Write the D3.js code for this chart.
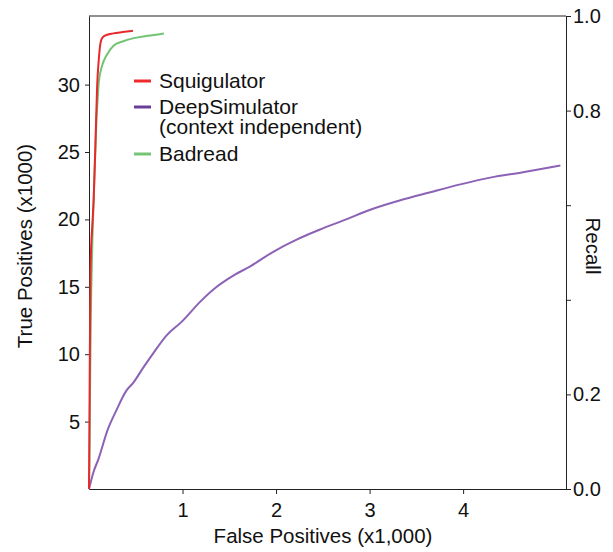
<!DOCTYPE html>
<html lang="en">
  <head>
    <meta charset="utf-8">
    <title>ROC</title>
    <script type="text/javascript" src="https://cdn.jsdelivr.net/npm/d3@7"></script>
    <style>
    body{margin:0;background:#fff;}
    svg{font-family:"Liberation Sans",Arial,sans-serif;}
    .axis line,
    .axis path{
      stroke:#222;
      stroke-width:1px;
    }
    .axis text{
      font-family:"Liberation Sans",Arial,sans-serif;
      font-size:20px;
      fill:#111;
    }
    .title{font-size:20.5px;fill:#111;}
    .legend text{font-size:21px;fill:#111;}
    </style>
  </head>
  <body>
    <svg></svg>
    <script type="text/javascript">
      // false positives (x1000) / true positives (x1000)
      var squigX=[0,0.004,0.008,0.012,0.016,0.02,0.035,0.05,0.07,0.087,0.105,0.13,0.16,0.26,0.36,0.47];
      var squigY=[0,4,9,13,16,17.3,19.5,21.5,25.9,29.9,31.9,33.3,33.6,33.8,33.9,34.0];

      var badX=[0,0.005,0.012,0.02,0.033,0.06,0.08,0.09,0.105,0.14,0.19,0.265,0.36,0.48,0.61,0.72,0.8];
      var badY=[0,2,8,13,17.5,23.5,27.4,28.6,30.2,31.4,32.2,32.9,33.2,33.45,33.6,33.7,33.8];

      var deepX=[0,0.05,0.1,0.2,0.29,0.4,0.47,0.58,0.69,0.83,0.99,1.19,1.33,1.56,1.72,1.97,2.22,2.47,2.75,3.0,3.32,3.64,3.97,4.29,4.64,5.04];
      var deepY=[0,1.3,2.2,4.4,5.8,7.3,7.85,9.0,10.1,11.4,12.4,13.9,14.8,15.9,16.5,17.6,18.5,19.25,20.0,20.7,21.4,22.0,22.6,23.1,23.5,24.0];

      var seriesNames=["Squigulator","DeepSimulator","Badread"];
      var legendLabels=[["Squigulator"],["DeepSimulator","(context independent)"],["Badread"]];
      var lineColors=["#e8282b","#8c62b6","#72c474"];
      var legendColors=["#ee2a2a","#6a3d9a","#74c476"];

      var xTicks=[1,2,3,4];
      var yTicks=[5,10,15,20,25,30];
      var recallTicks=[0,0.2,0.4,0.6,0.8,1.0];
      var recallLabelled=[0,0.2,0.8,1.0];

      var width=613, height=552;
      var pLeft=89, pRight=566, pTop=16, pBottom=489;

      var svg=d3.select("svg")
                .attr("width",width)
                .attr("height",height);

      var xscale=d3.scaleLinear().domain([0,5.1]).range([pLeft,pRight]);
      var yscale=d3.scaleLinear().domain([0,35.09]).range([pBottom,pTop]);
      var rscale=d3.scaleLinear().domain([0,1]).range([pBottom,pTop]);

      // box top edge
      svg.append("line")
         .attr("x1",pLeft).attr("x2",pRight)
         .attr("y1",pTop).attr("y2",pTop)
         .attr("stroke","#222").attr("stroke-width",1);

      var xAxis=d3.axisBottom(xscale).tickValues(xTicks).tickSize(5).tickPadding(9)
                  .tickFormat(d3.format("d")).tickSizeOuter(0);
      var yAxis=d3.axisLeft(yscale).tickValues(yTicks).tickSize(4).tickPadding(5)
                  .tickFormat(d3.format("d")).tickSizeOuter(0);
      var rAxis=d3.axisRight(rscale).tickValues(recallTicks).tickSize(5).tickPadding(2)
                  .tickFormat(function(d){
                    return recallLabelled.indexOf(d)>=0 ? d3.format(".1f")(d) : "";
                  }).tickSizeOuter(0);

      svg.append("g").attr("class","axis")
         .attr("transform","translate(0,"+pBottom+")").call(xAxis);
      svg.append("g").attr("class","axis")
         .attr("transform","translate("+pLeft+",0)").call(yAxis);
      svg.append("g").attr("class","axis")
         .attr("transform","translate("+pRight+",0)").call(rAxis);

      var line=d3.line()
                 .curve(d3.curveMonotoneX)
                 .x(function(d){return xscale(d[0]);})
                 .y(function(d){return yscale(d[1]);});

      var series=[
        d3.zip(squigX,squigY),
        d3.zip(deepX,deepY),
        d3.zip(badX,badY)
      ];

      // draw purple, green then red on top
      [1,2,0].forEach(function(i){
        svg.append("path")
           .datum(series[i])
           .attr("fill","none")
           .attr("stroke",lineColors[i])
           .attr("stroke-width",2)
           .attr("stroke-linejoin","round")
           .attr("d",line);
      });

      // legend
      var legendY=[81,107,154];
      var lg=svg.append("g").attr("class","legend");
      seriesNames.forEach(function(name,i){
        lg.append("line")
          .attr("x1",134).attr("x2",151)
          .attr("y1",legendY[i]).attr("y2",legendY[i])
          .attr("stroke",legendColors[i]).attr("stroke-width",3);
        var t=lg.append("text")
                .attr("x",159)
                .attr("y",legendY[i]+7);
        legendLabels[i].forEach(function(s,j){
          t.append("tspan")
           .attr("x",159)
           .attr("dy",j===0?0:20)
           .text(s);
        });
      });

      svg.append("text")
         .attr("class","title")
         .attr("x",323)
         .attr("y",543)
         .attr("text-anchor","middle")
         .text("False Positives (x1,000)");

      svg.append("text")
         .attr("class","title")
         .attr("transform","translate(32,246) rotate(-90)")
         .attr("text-anchor","middle")
         .text("True Positives (x1000)");

      svg.append("text")
         .attr("class","title")
         .attr("transform","translate(586,246) rotate(90)")
         .attr("text-anchor","middle")
         .text("Recall");
    </script>
  </body>
</html>
